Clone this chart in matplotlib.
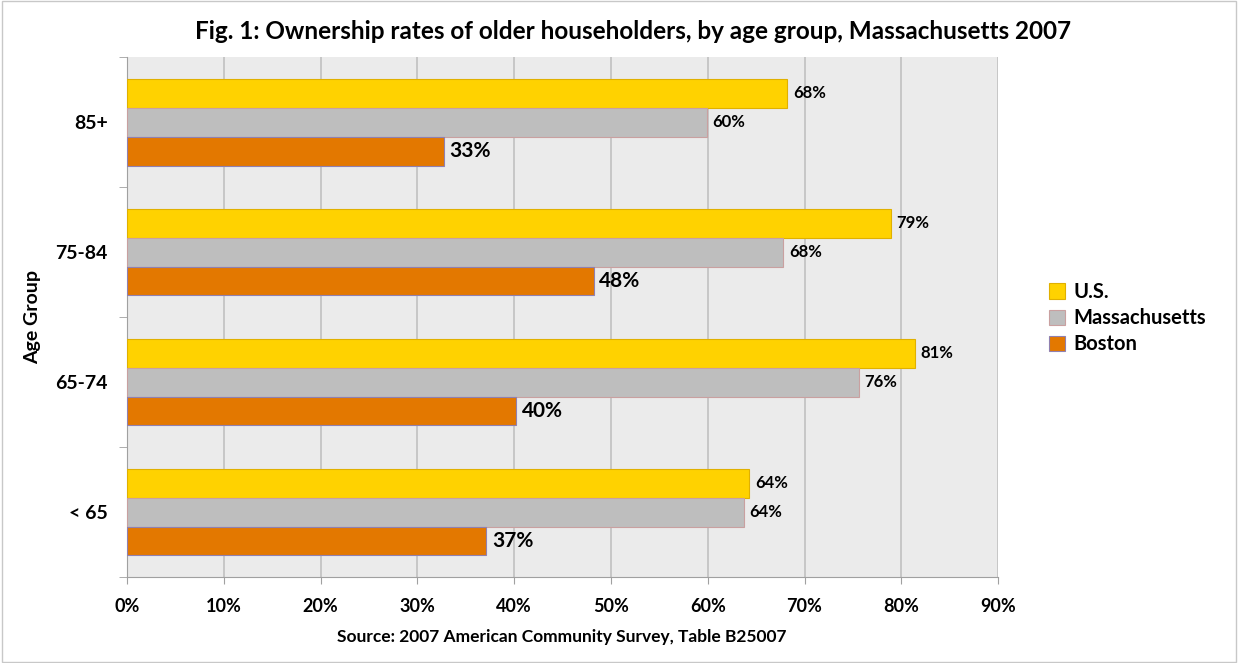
import numpy as np
import matplotlib.pyplot as plt
from matplotlib.patches import Rectangle

plt.rcParams["font.family"] = ["Lato", "DejaVu Sans"]

age_groups = ["< 65", "65-74", "75-84", "85+"]
series_names = ["U.S.", "Massachusetts", "Boston"]
us_rates = [64.3, 81.4, 78.9, 68.2]
ma_rates = [63.7, 75.6, 67.8, 59.9]
boston_rates = [37.1, 40.2, 48.2, 32.7]
x_ticks = [0, 10, 20, 30, 40, 50, 60, 70, 80, 90]

fill_colors = ["#FFD200", "#BEBEBE", "#E37800"]
edge_colors = ["#E0B000", "#C9A0A0", "#9080B0"]
label_sizes = [12, 12, 15]

fig = plt.figure(figsize=(12.38, 6.63), dpi=100)
ax = fig.add_axes([0.1026, 0.1297, 0.7036, 0.7843])
ax.set_facecolor("#EBEBEB")

y = np.arange(len(age_groups))
bar_h = 0.223
offsets = [bar_h, 0, -bar_h]
all_rates = [us_rates, ma_rates, boston_rates]

for i, rates in enumerate(all_rates):
    bars = ax.barh(y + offsets[i], rates, height=bar_h, color=fill_colors[i],
                   edgecolor=edge_colors[i], linewidth=0.8, label=series_names[i],
                   zorder=3)
    for b, v in zip(bars, rates):
        ax.text(b.get_width() + 0.6, b.get_y() + b.get_height() / 2,
                f"{round(v):.0f}%", va="center", ha="left",
                fontsize=label_sizes[i], fontweight="bold", zorder=4)

ax.set_xlim(0, 90)
ax.set_ylim(-0.5, 3.5)
ax.set_xticks(x_ticks)
ax.set_xticklabels([f"{t}%" for t in x_ticks], fontsize=13, fontweight="bold")
ax.tick_params(axis="x", length=5, color="#A0A0A0", pad=10)
ax.set_yticks(y)
ax.set_yticklabels(age_groups, fontsize=14, fontweight="bold")
ax.tick_params(axis="y", length=0, pad=14)
ax.set_yticks(np.arange(-0.5, 3.6, 1), minor=True)
ax.tick_params(axis="y", which="minor", length=6, color="#A0A0A0")
ax.grid(axis="x", color="#C0C0C0", linewidth=1.2, zorder=0)

for side in ["top", "right"]:
    ax.spines[side].set_visible(False)
for side in ["left", "bottom"]:
    ax.spines[side].set_color("#A0A0A0")

ax.set_ylabel("Age Group", fontsize=14, fontweight="bold", labelpad=10)

fig.text(0.511, 0.952, "Fig. 1: Ownership rates of older householders, by age group, Massachusetts 2007",
         ha="center", va="center", fontsize=17.5, fontweight="bold")
fig.text(0.454, 0.039, "Source: 2007 American Community Survey, Table B25007",
         ha="center", va="center", fontsize=12.5, fontweight="bold")

handles, labels = ax.get_legend_handles_labels()
leg = fig.legend(handles, labels, loc="center left", bbox_to_anchor=(0.833, 0.52),
                 frameon=False, prop={"size": 14.5, "weight": "bold"},
                 handlelength=0.8, handleheight=0.8, handletextpad=0.4,
                 labelspacing=0.3)

fig.patches.append(Rectangle((0.002, 0.002), 0.996, 0.996, transform=fig.transFigure,
                             fill=False, edgecolor="#C8C8C8", linewidth=1))

fig.savefig("out.png", dpi=100)
